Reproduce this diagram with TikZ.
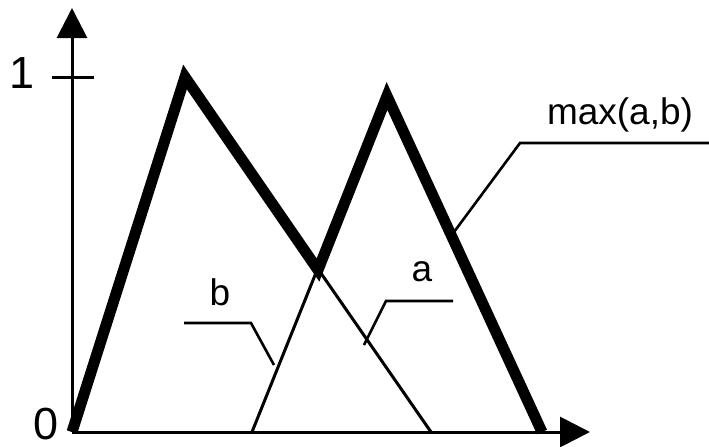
\documentclass[tikz,border=0pt]{standalone}
\usepackage{fontspec}
\setmainfont{Liberation Sans}
\usetikzlibrary{arrows.meta}
\tikzset{
  axis/.style={line width=1.5pt, -{Triangle[length=15pt, width=15pt]}},
  thin/.style={line width=1.5pt},
  thick max/.style={line width=5.5pt},
  leader/.style={line width=1.3pt},
  lbl/.style={font=\fontsize{18.5}{22}\selectfont, inner sep=0pt},
  digit/.style={font=\fontsize{22.5}{26}\selectfont, inner sep=0pt}
}
\begin{document}
\begin{tikzpicture}[x=0.5pt, y=-0.5pt]
  \useasboundingbox (0,0) rectangle (709,446);
  % points of the two triangles
  \coordinate (O) at (72,432);
  \coordinate (ytop) at (72,8);
  \coordinate (xend) at (590,432);
  \coordinate (apeak) at (185,77);
  \coordinate (aend) at (431,432);
  \coordinate (bstart) at (252,432);
  \coordinate (bpeak) at (387,96);
  \coordinate (bend) at (542,432);
  \coordinate (cross) at (318,270);

  % axes
  \draw[axis] (O) -- (ytop);
  \draw[axis] (O) -- (xend);
  \coordinate (tickL) at (52,77);
  \coordinate (tickR) at (94,77);
  \draw[thin] (tickL) -- (tickR);
  \node[digit] (one) at (22,73) {1};
  \node[digit] (zero) at (46,424) {0};

  % a and b
  \draw[thin] (O) -- (apeak) -- (aend);
  \draw[thin] (bstart) -- (bpeak) -- (bend);
  % max(a,b)
  \draw[thick max] (O) -- (apeak) -- (cross) -- (bpeak) -- (bend);

  % labels
  \node[lbl] (lb) at (220,292) {b};
  \coordinate (b1) at (184,323);
  \coordinate (b2) at (251,323);
  \coordinate (b3) at (274,365);
  \draw[leader] (b1) -- (b2) -- (b3);

  \node[lbl] (la) at (422,272) {a};
  \coordinate (a1) at (453,301);
  \coordinate (a2) at (386,301);
  \coordinate (a3) at (364,345);
  \draw[leader] (a1) -- (a2) -- (a3);

  \node[lbl] (lmax) at (620,115) {max(a,b)};
  \coordinate (m1) at (709,143);
  \coordinate (m2) at (520,143);
  \coordinate (m3) at (454,232);
  \draw[leader] (m1) -- (m2) -- (m3);
\end{tikzpicture}
\end{document}
